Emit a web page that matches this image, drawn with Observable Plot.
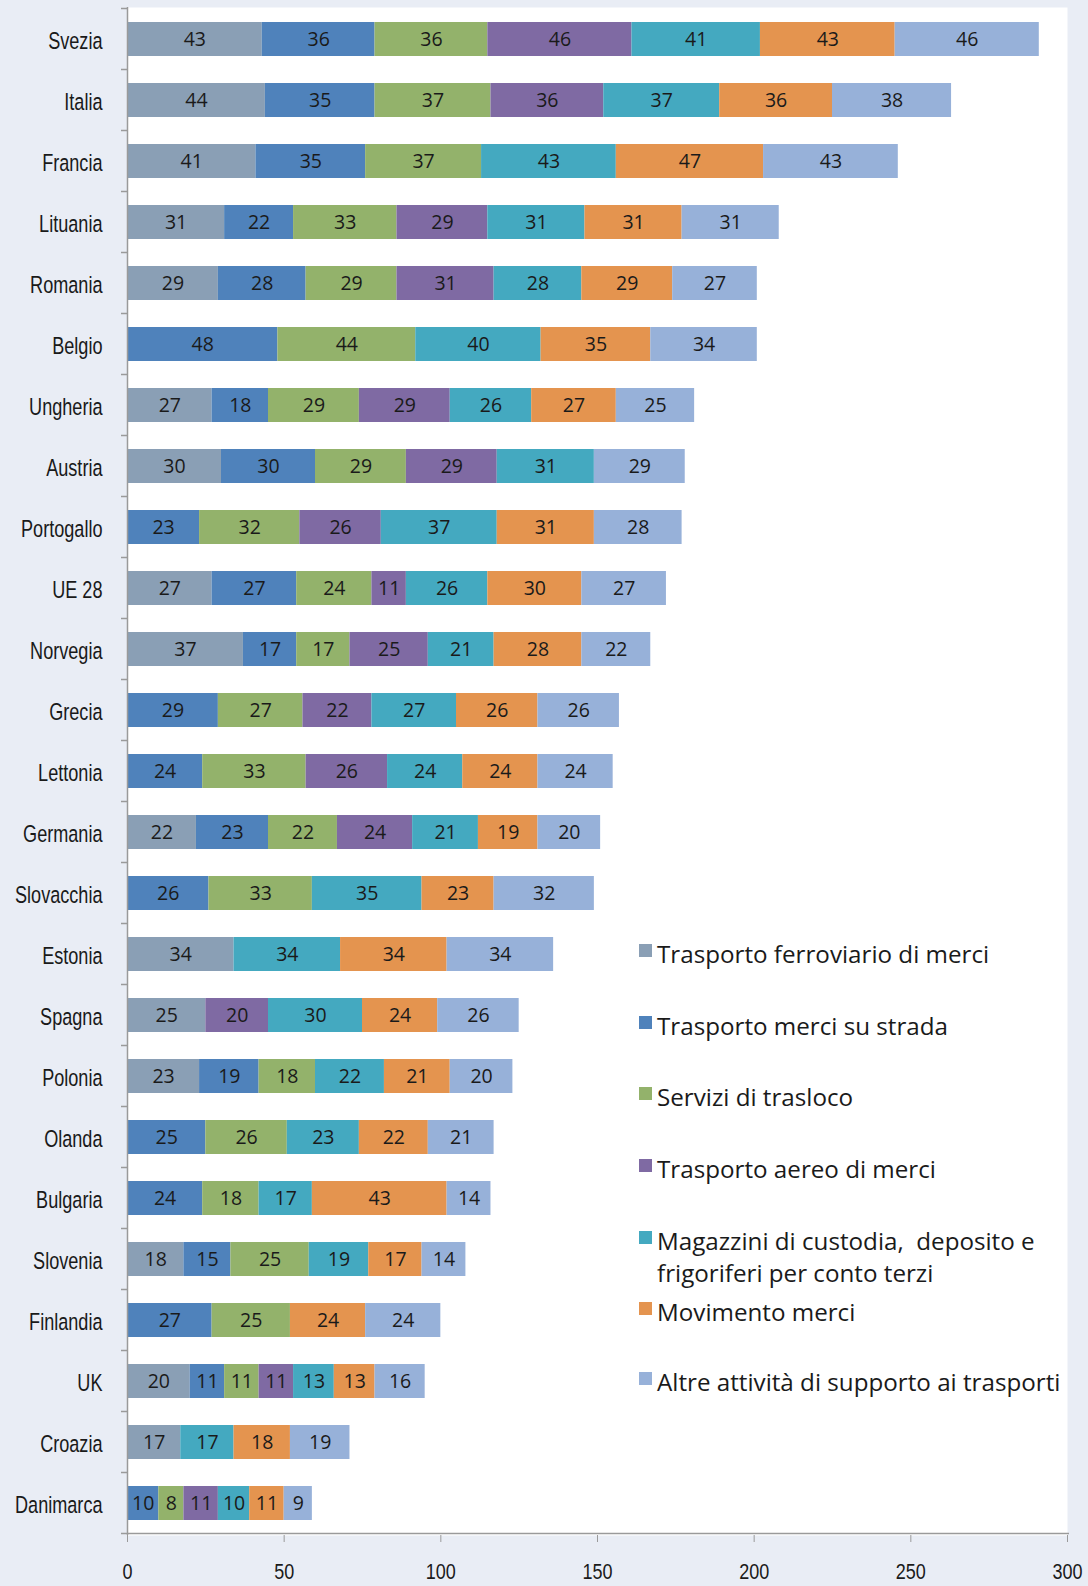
<!DOCTYPE html>
<html>
<head>
<meta charset="utf-8">
<script src="https://cdn.jsdelivr.net/npm/d3@7"></script>
<script src="https://cdn.jsdelivr.net/npm/@observablehq/plot@0.6"></script>
<style>
  body { margin: 0; background: #E9EDF5; }
  #wrap { position: relative; width: 1088px; height: 1586px; background: #E9EDF5; }
  #legend { position: absolute; left: 0; top: 0; font-family: "Open Sans", sans-serif; font-size: 24.2px; color: #1a1a1a; }
  .li { position: absolute; left: 657px; line-height: 32px; white-space: nowrap; }
  .sw { position: absolute; left: -18px; top: 6px; width: 13px; height: 13px; }
</style>
</head>
<body>
<div id="wrap"><div id="legend"></div></div>
<script>
const countries = ["Svezia","Italia","Francia","Lituania","Romania","Belgio","Ungheria","Austria","Portogallo","UE 28","Norvegia","Grecia","Lettonia","Germania","Slovacchia","Estonia","Spagna","Polonia","Olanda","Bulgaria","Slovenia","Finlandia","UK","Croazia","Danimarca"];

const seriesNames = ["Trasporto ferroviario di merci","Trasporto merci su strada","Servizi di trasloco","Trasporto aereo di merci","Magazzini di custodia,  deposito e frigoriferi per conto terzi","Movimento merci","Altre attività di supporto ai trasporti"];

const ferroviario = [43,44,41,31,29,null,27,30,null,27,37,null,null,22,null,34,25,23,null,null,18,null,20,17,null];
const strada      = [36,35,35,22,28,48,18,30,23,27,17,29,24,23,26,null,null,19,25,24,15,27,11,null,10];
const trasloco    = [36,37,37,33,29,44,29,29,32,24,17,27,33,22,33,null,null,18,26,18,25,25,11,null,8];
const aereo       = [46,36,null,29,31,null,29,29,26,11,25,22,26,24,null,null,20,null,null,null,null,null,11,null,11];
const magazzini   = [41,37,43,31,28,40,26,31,37,26,21,27,24,21,35,34,30,22,23,17,19,null,13,17,10];
const movimento   = [43,36,47,31,29,35,27,null,31,30,28,26,24,19,23,34,24,21,22,43,17,24,13,18,11];
const altre       = [46,38,43,31,27,34,25,29,28,27,22,26,24,20,32,34,26,20,21,14,14,24,16,19,9];

const xTicks = [0,50,100,150,200,250,300];
const colors = ["#8A9FB5","#4F82BB","#93B26B","#7F6AA3","#44A9C0","#E4944F","#97B1D9"];

const seriesValues = [ferroviario, strada, trasloco, aereo, magazzini, movimento, altre];
const data = [];
countries.forEach((c, i) => {
  seriesValues.forEach((arr, s) => {
    if (arr[i] != null) data.push({country: c, series: seriesNames[s], value: arr[i]});
  });
});

const chart = Plot.plot({
  width: 1088,
  height: 1586,
  marginLeft: 127,
  marginRight: 21,
  marginTop: 7,
  marginBottom: 51,
  style: {background: "transparent", fontFamily: "'Liberation Sans', Arial, sans-serif"},
  x: {domain: [0, 300], ticks: xTicks, label: null},
  y: {domain: countries, paddingInner: 0.44, paddingOuter: 0.22, label: null},
  color: {domain: seriesNames, range: colors},
  marks: [
    Plot.frame({fill: "white", stroke: null}),
    Plot.barX(data, Plot.stackX({x: "value", y: "country", z: "series", fill: "series", order: null})),
    Plot.text(data, Plot.stackX({x: "value", y: "country", z: "series", text: "value", order: null,
      fontSize: 19.5, fill: "#1a1a1a", fontFamily: "'Open Sans', sans-serif"})),
    Plot.ruleX([0], {stroke: "#9a9a9a", strokeWidth: 1.5}),
    Plot.axisY({tickSize: 0, tickPadding: 25, fontSize: 23.5, color: "#1a1a1a"}),
    Plot.axisX({ticks: xTicks, tickSize: 7, tickPadding: 21, fontSize: 22.5, stroke: "#9a9a9a", color: "#1a1a1a", label: null})
  ]
});

// condensed look for axis labels (the reference uses a condensed face)
d3.select(chart).selectAll('g[aria-label="y-axis tick label"] text').each(function() {
  const t = d3.select(this);
  t.attr("transform", (t.attr("transform") || "") + " translate(0,2) scale(0.77,1)");
});
d3.select(chart).selectAll('g[aria-label="x-axis tick label"] text').each(function() {
  const t = d3.select(this);
  t.attr("transform", (t.attr("transform") || "") + " scale(0.8,1)");
});

// boundary ticks on y and the bottom axis line, drawn from the plot's own scales
const ys = chart.scale("y");
const xs = chart.scale("x");
const svg = d3.select(chart);
const x0 = xs.apply(0);
const x1 = xs.apply(300);
const bw = ys.bandwidth, st = ys.step;
const bounds = countries.map(c => ys.apply(c) - (st - bw) / 2);
bounds.push(ys.apply(countries[countries.length - 1]) + bw + (st - bw) / 2);
const g = svg.append("g").attr("stroke", "#9a9a9a").attr("stroke-width", 1.5);
bounds.forEach(b => g.append("line").attr("x1", x0 - 6).attr("x2", x0).attr("y1", b).attr("y2", b));
const yb = bounds[bounds.length - 1];
g.append("line").attr("x1", x0).attr("x2", x1 + 2).attr("y1", yb).attr("y2", yb);

document.getElementById("wrap").prepend(chart);

// legend
const legendCenters = [955, 1027, 1098, 1170, 1242, 1313, 1383];
const legend = d3.select("#legend");
seriesNames.forEach((s, i) => {
  const item = legend.append("div").attr("class", "li").style("top", (legendCenters[i] - 16.7) + "px");
  item.append("span").attr("class", "sw").style("background", colors[i]);
  if (i === 4) {
    item.append("span").html("Magazzini di custodia,&nbsp; deposito e<br>frigoriferi per conto terzi");
  } else {
    item.append("span").text(s);
  }
});
</script>
</body>
</html>
